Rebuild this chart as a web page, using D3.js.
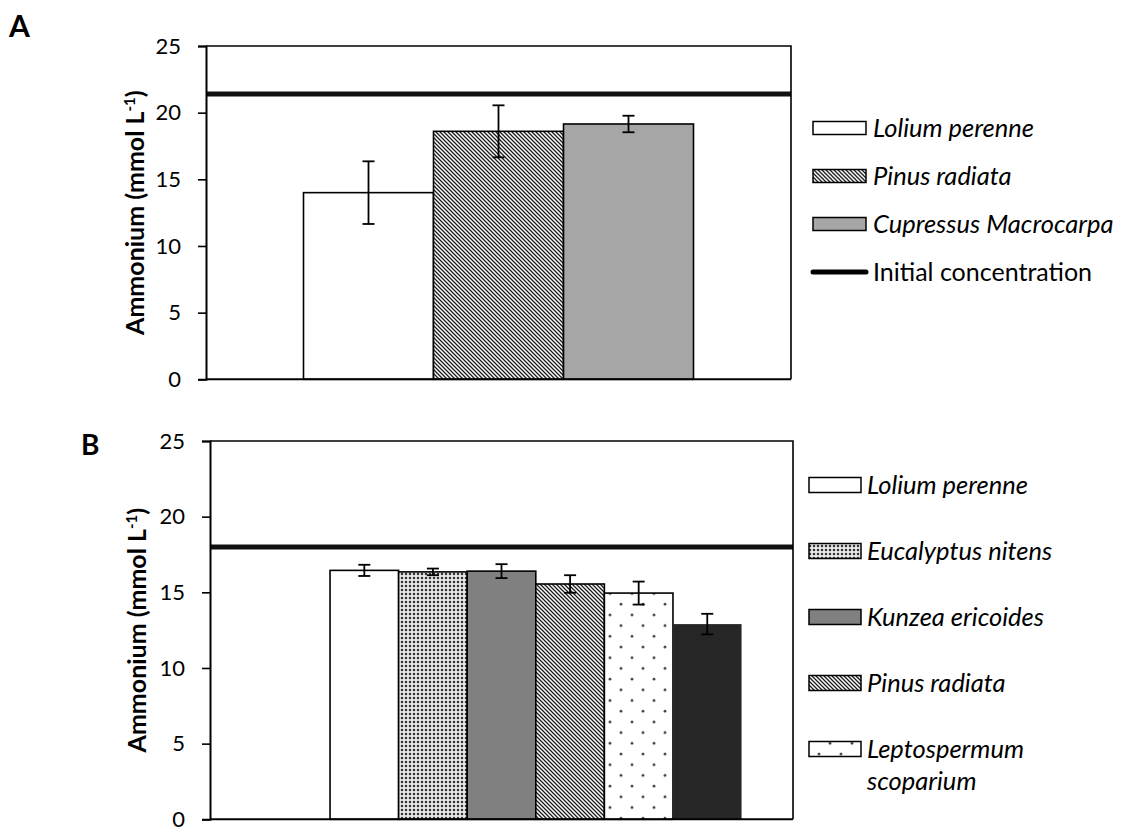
<!DOCTYPE html>
<html>
<head>
<meta charset="utf-8">
<script src="https://cdn.jsdelivr.net/npm/d3@7"></script>
<style>
  html, body { margin: 0; padding: 0; background: #fff; }
  svg { display: block; }
  text { font-family: Lato, "Open Sans", sans-serif; fill: #000; }
</style>
</head>
<body>
<svg id="chart" width="1125" height="827"></svg>
<script>
// ---- data ----
const yTicks = [0, 5, 10, 15, 20, 25];
const yTitle = "Ammonium (mmol L";

// Panel A
const speciesA = ["Lolium perenne", "Pinus radiata", "Cupressus Macrocarpa"];
const meanA = [14.0, 18.6, 19.15];
const errA = [2.35, 1.95, 0.62];
const initialA = 21.4;

// Panel B (first slot of the category band is empty)
const slotsB = ["", "Lolium perenne", "Eucalyptus nitens", "Kunzea ericoides",
                "Pinus radiata", "Leptospermum scoparium", "Other"];
const speciesB = slotsB.slice(1);
const meanB = [16.45, 16.35, 16.4, 15.55, 14.95, 12.9];
const errB = [0.37, 0.22, 0.46, 0.58, 0.76, 0.68];
const initialB = 18.0;
const legendB = ["Lolium perenne", "Eucalyptus nitens", "Kunzea ericoides",
                 "Pinus radiata", "Leptospermum scoparium"];

// ---- styles ----
const svg = d3.select("#chart");
const defs = svg.append("defs");

// diagonal hatch (top-left to bottom-right)
const hatch = defs.append("pattern").attr("id", "hatch")
  .attr("patternUnits", "userSpaceOnUse").attr("width", 4).attr("height", 4);
hatch.append("rect").attr("width", 4).attr("height", 4).attr("fill", "#fff");
hatch.append("path").attr("d", "M-1,-1 L5,5 M-1,3 L1,5 M3,-1 L5,1")
  .attr("stroke", "#1a1a1a").attr("stroke-width", 1.3);

// dense dot grid
const dense = defs.append("pattern").attr("id", "dense")
  .attr("patternUnits", "userSpaceOnUse").attr("width", 4).attr("height", 4);
dense.append("rect").attr("width", 4).attr("height", 4).attr("fill", "#fff");
dense.append("rect").attr("x", 0.5).attr("y", 0.5).attr("width", 3).attr("height", 3).attr("fill", "#a8a8a8");
dense.append("rect").attr("x", 1).attr("y", 1).attr("width", 2).attr("height", 2).attr("fill", "#333");

// sparse staggered dots
const sparse = defs.append("pattern").attr("id", "sparse")
  .attr("patternUnits", "userSpaceOnUse").attr("width", 22).attr("height", 21.4);
sparse.append("rect").attr("width", 22).attr("height", 21.4).attr("fill", "#fff");
sparse.append("circle").attr("cx", 5).attr("cy", 5).attr("r", 1.4).attr("fill", "#444");
sparse.append("circle").attr("cx", 16).attr("cy", 15.7).attr("r", 1.4).attr("fill", "#444");

const styleOf = {
  "Lolium perenne": { fill: "#fff", stroke: "#000" },
  "Pinus radiata": { fill: "url(#hatch)", stroke: "#000" },
  "Cupressus Macrocarpa": { fill: "#a6a6a6", stroke: "#000" },
  "Eucalyptus nitens": { fill: "url(#dense)", stroke: "#000" },
  "Kunzea ericoides": { fill: "#808080", stroke: "#000" },
  "Leptospermum scoparium": { fill: "url(#sparse)", stroke: "#000" },
  "Other": { fill: "#262626", stroke: "none" }
};

// ---- panel drawing ----
function drawPanel(cfg) {
  const { x0, x1, yScale, band, names, means, errs, initial, letter, letterPos, letterSize, titleX } = cfg;
  const g = svg.append("g");
  const yBase = yScale(0), yTop = yScale(25);

  // bars
  g.selectAll("rect.bar").data(names).join("rect")
    .attr("class", "bar")
    .attr("x", d => band(d))
    .attr("width", band.bandwidth())
    .attr("y", (d, i) => yScale(means[i]))
    .attr("height", (d, i) => yBase - yScale(means[i]))
    .attr("fill", d => styleOf[d].fill)
    .attr("stroke", d => styleOf[d].stroke)
    .attr("stroke-width", 1.6);

  // error bars
  const eb = g.selectAll("g.err").data(names).join("g").attr("class", "err")
    .attr("stroke", "#000").attr("stroke-width", 1.8);
  const cx = d => band(d) + band.bandwidth() / 2;
  eb.append("line")
    .attr("x1", cx).attr("x2", cx)
    .attr("y1", (d, i) => yScale(means[i] - errs[i]))
    .attr("y2", (d, i) => yScale(means[i] + errs[i]));
  [-1, 1].forEach(s => {
    eb.append("line")
      .attr("x1", d => cx(d) - 6).attr("x2", d => cx(d) + 6)
      .attr("y1", (d, i) => yScale(means[i] + s * errs[i]))
      .attr("y2", (d, i) => yScale(means[i] + s * errs[i]));
  });

  // initial concentration line
  g.append("line")
    .attr("x1", x0).attr("x2", x1)
    .attr("y1", yScale(initial)).attr("y2", yScale(initial))
    .attr("stroke", "#111").attr("stroke-width", 5);

  // frame: top and right
  g.append("path")
    .attr("d", `M${x0},${yTop} H${x1} V${yBase}`)
    .attr("fill", "none").attr("stroke", "#000").attr("stroke-width", 1.6);
  // baseline
  g.append("line").attr("x1", x0).attr("x2", x1).attr("y1", yBase).attr("y2", yBase)
    .attr("stroke", "#000").attr("stroke-width", 2);

  // y axis
  const ax = g.append("g").attr("transform", `translate(${x0},0)`)
    .call(d3.axisLeft(yScale).tickValues(yTicks).tickSize(8).tickPadding(17).tickFormat(d3.format("d")));
  ax.select(".domain").attr("stroke", "#000").attr("stroke-width", 2);
  ax.selectAll(".tick line").attr("stroke", "#000").attr("stroke-width", 1.6);
  ax.selectAll(".tick text").attr("font-size", 22).attr("font-family", "Lato, sans-serif").attr("fill", "#000");

  // y title
  const ty = g.append("text")
    .attr("transform", `translate(${titleX},${(yBase + yTop) / 2}) rotate(-90)`)
    .attr("text-anchor", "middle")
    .attr("font-weight", "bold").attr("font-size", 25);
  ty.append("tspan").text(yTitle);
  ty.append("tspan").attr("dy", -9).attr("font-size", 15).text("-1");
  ty.append("tspan").attr("dy", 9).text(")");

  // panel letter
  g.append("text").attr("x", letterPos[0]).attr("y", letterPos[1])
    .attr("font-weight", "bold").attr("font-size", letterSize).text(letter);
}

const bandA = d3.scaleBand().domain(speciesA).range([206, 791]).paddingInner(0).paddingOuter(0.75);
const yA = d3.scaleLinear().domain([0, 25]).range([379.3, 46]);
drawPanel({ x0: 206, x1: 791, yScale: yA, band: bandA, names: speciesA, means: meanA, errs: errA,
            initial: initialA, letter: "A", letterPos: [9, 37], letterSize: 30, titleX: 144 });

const bandB = d3.scaleBand().domain(slotsB).range([210, 793]).paddingInner(0).paddingOuter(0.75);
const yB = d3.scaleLinear().domain([0, 25]).range([819.3, 441]);
drawPanel({ x0: 210, x1: 793, yScale: yB, band: bandB, names: speciesB, means: meanB, errs: errB,
            initial: initialB, letter: "B", letterPos: [81, 455], letterSize: 28, titleX: 146 });

// ---- legends ----
function legend(items, opts) {
  const { sx, sw, sh, tx, y0, dy } = opts;
  items.forEach((name, i) => {
    const cy = y0 + i * dy;
    if (name === "Initial concentration") {
      svg.append("line").attr("x1", sx).attr("x2", sx + sw).attr("y1", cy).attr("y2", cy)
        .attr("stroke", "#000").attr("stroke-width", 5).attr("stroke-linecap", "round");
      svg.append("text").attr("x", tx).attr("y", cy + 9).attr("font-size", 25).text(name);
      return;
    }
    const st = styleOf[name];
    svg.append("rect").attr("x", sx).attr("y", cy - sh / 2).attr("width", sw).attr("height", sh)
      .attr("fill", st.fill).attr("stroke", "#000").attr("stroke-width", 1.5);
    const words = name.split(" ");
    const t = svg.append("text").attr("x", tx).attr("y", cy + 9)
      .attr("font-size", 25.5).attr("font-style", "italic");
    if (opts.wrap && name.length > 20) {
      t.append("tspan").text(words[0]);
      t.append("tspan").attr("x", tx).attr("dy", 32).text(words.slice(1).join(" "));
    } else {
      t.text(name);
    }
  });
}

legend([...speciesA, "Initial concentration"], { sx: 813, sw: 53, sh: 13, tx: 873, y0: 128, dy: 48 });
legend(legendB, { sx: 809, sw: 52, sh: 15, tx: 867, y0: 485, dy: 66, wrap: true });
</script>
</body>
</html>
